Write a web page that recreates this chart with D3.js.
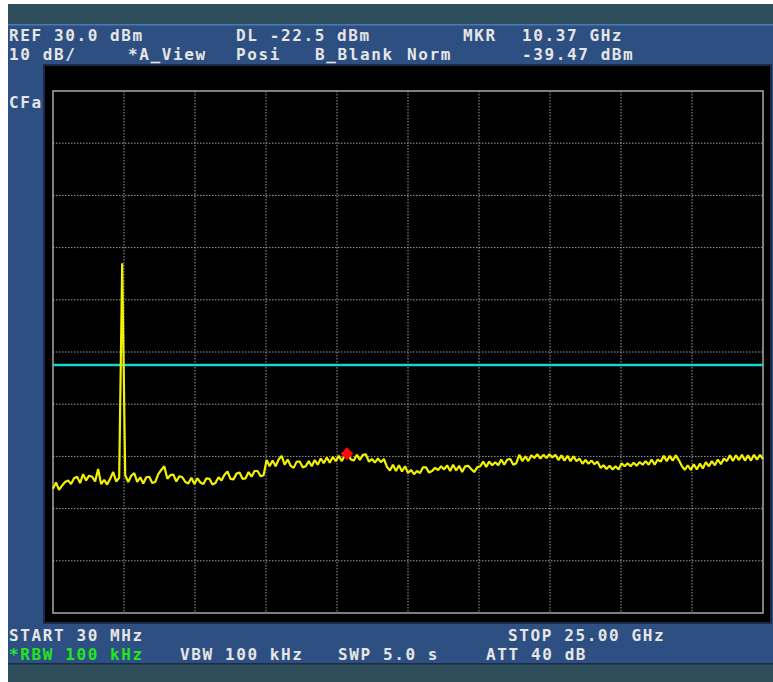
<!DOCTYPE html>
<html>
<head>
<meta charset="utf-8">
<script src="https://cdn.jsdelivr.net/npm/d3@7/dist/d3.min.js"></script>
<style>
  html, body { margin: 0; padding: 0; background: #ffffff; }
  svg text { font-family: "DejaVu Sans Mono", "Liberation Mono", monospace; font-size: 16px; letter-spacing: 1.6px; font-weight: bold; }
</style>
</head>
<body>
<svg id="chart" width="773" height="682"></svg>
<script>
// ---- Instrument settings / data ----
const startGHz = 0.03;
const stopGHz = 25.00;
const refLevel = 30.0;      // dBm, top of graticule
const dbPerDiv = 10;
const yDivisions = 10;
const xDivisions = 10;
const displayLine = -22.5;  // dBm
const markerFreq = 10.37;   // GHz
const markerLevel = -39.47; // dBm

// trace levels (dBm) at equally spaced sweep points from START to STOP
const traceLevels = [
  -46.2, -45.0, -46.4, -45.6, -44.9, -44.6, -45.3, -44.2, -43.9, -45.1,
  -43.4, -44.6, -43.7, -43.9, -44.8, -42.4, -45.3, -44.5, -45.4, -44.3,
  -43.0, -44.8, -44.1, -3.0, -43.6, -44.9, -43.7, -43.2, -44.9, -44.0,
  -45.2, -44.0, -43.9, -45.1, -44.9, -43.4, -42.6, -41.9, -44.3, -43.6,
  -43.5, -44.8, -43.8, -44.0, -44.9, -45.2, -44.1, -45.3, -44.2, -45.0,
  -45.3, -44.2, -44.3, -45.4, -45.1, -44.0, -44.6, -43.5, -42.9, -44.3,
  -44.4, -43.3, -43.1, -44.3, -44.2, -43.0, -43.9, -42.8, -42.8, -43.8,
  -43.6, -40.7, -41.9, -40.8, -41.9, -40.6, -39.9, -41.6, -40.6, -41.8,
  -42.2, -41.0, -41.0, -42.1, -41.9, -40.9, -41.9, -40.7, -41.6, -40.4,
  -41.3, -40.2, -41.2, -40.1, -40.9, -39.9, -40.9, -39.8, -39.5, -40.6,
  -40.8, -39.7, -40.7, -39.7, -39.6, -41.0, -40.5, -41.2, -40.4, -41.1,
  -40.5, -42.0, -42.7, -41.6, -42.8, -41.7, -42.9, -41.9, -43.2, -42.6,
  -43.4, -42.8, -43.2, -42.1, -42.1, -43.1, -42.8, -42.2, -42.6, -41.9,
  -42.5, -41.7, -42.8, -41.6, -42.7, -41.8, -43.0, -41.9, -41.8, -42.4,
  -43.0, -42.1, -41.9, -41.0, -42.0, -41.0, -41.7, -41.1, -41.7, -40.6,
  -41.6, -40.6, -40.5, -41.6, -41.3, -39.7, -40.9, -40.0, -40.9, -39.8,
  -40.3, -39.6, -40.4, -39.7, -40.3, -39.6, -40.2, -39.7, -40.7, -39.8,
  -40.8, -39.9, -40.9, -40.0, -40.9, -40.4, -41.4, -40.7, -41.4, -40.8,
  -41.5, -41.0, -42.2, -41.7, -42.4, -41.8, -42.5, -41.9, -42.5, -41.3,
  -41.9, -41.3, -41.9, -41.2, -41.8, -41.1, -41.6, -40.9, -41.6, -40.6,
  -41.6, -40.6, -41.0, -39.9, -40.9, -39.9, -40.8, -39.8, -40.7, -41.8,
  -42.6, -41.7, -42.6, -41.5, -42.5, -41.4, -42.3, -41.1, -41.9, -40.9,
  -41.7, -40.6, -41.5, -40.4, -40.9, -39.8, -40.9, -39.8, -40.7, -39.7,
  -40.8, -39.8, -40.8, -39.7, -40.6, -39.7, -40.5
];

// annotation texts
const headerTexts = [
  {t: "REF 30.0 dBm", x: 9, row: 0},
  {t: "DL -22.5 dBm", x: 236, row: 0},
  {t: "MKR", x: 463, row: 0},
  {t: "10.37 GHz", x: 522, row: 0},
  {t: "10 dB/", x: 9, row: 1},
  {t: "*A_View", x: 128, row: 1},
  {t: "Posi", x: 236, row: 1},
  {t: "B_Blank", x: 315, row: 1},
  {t: "Norm", x: 407, row: 1},
  {t: "-39.47 dBm", x: 522, row: 1}
];
const footerTexts = [
  {t: "START 30 MHz", x: 9, row: 0, c: "#e6e6e6"},
  {t: "STOP 25.00 GHz", x: 508, row: 0, c: "#e6e6e6"},
  {t: "*RBW 100 kHz", x: 9, row: 1, c: "#22e622"},
  {t: "VBW 100 kHz", x: 180, row: 1, c: "#e6e6e6"},
  {t: "SWP 5.0 s", x: 338, row: 1, c: "#e6e6e6"},
  {t: "ATT 40 dB", x: 486, row: 1, c: "#e6e6e6"}
];

// ---- Drawing ----
const svg = d3.select("#chart");
const W = 773, H = 682;

// backgrounds
svg.append("rect").attr("x", 0).attr("y", 0).attr("width", W).attr("height", H).attr("fill", "#ffffff");
svg.append("rect").attr("x", 8).attr("y", 4).attr("width", W - 8).attr("height", H - 4).attr("fill", "#2f4e5b");
svg.append("rect").attr("x", 8).attr("y", 24).attr("width", W - 8).attr("height", 640).attr("fill", "#2d4f82");
svg.append("rect").attr("x", 8).attr("y", 24).attr("width", W - 8).attr("height", 1.5).attr("fill", "#4a78b8");
svg.append("rect").attr("x", 8).attr("y", 663).attr("width", W - 8).attr("height", 1.5).attr("fill", "#1b2c44");
// black screen
svg.append("rect").attr("x", 43).attr("y", 64).attr("width", 729).attr("height", 560).attr("fill", "#1a2a48");
svg.append("rect").attr("x", 45).attr("y", 66).attr("width", 725).attr("height", 556).attr("fill", "#000000");

// graticule
const plot = {x0: 53, x1: 763, y0: 91, y1: 613};
const x = d3.scaleLinear().domain([startGHz, stopGHz]).range([plot.x0, plot.x1]);
const y = d3.scaleLinear().domain([refLevel - dbPerDiv * yDivisions, refLevel]).range([plot.y1, plot.y0]);

const yGrid = d3.range(1, yDivisions).map(k => refLevel - k * dbPerDiv);
const xGrid = d3.range(1, xDivisions).map(k => startGHz + k * (stopGHz - startGHz) / xDivisions);

const g = svg.append("g");
g.selectAll("line.h").data(yGrid).join("line")
  .attr("x1", plot.x0).attr("x2", plot.x1)
  .attr("y1", d => y(d)).attr("y2", d => y(d))
  .attr("stroke", "#9a9a9a").attr("stroke-width", 1).attr("stroke-dasharray", "1.5,1.5");
g.selectAll("line.v").data(xGrid).join("line")
  .attr("y1", plot.y0).attr("y2", plot.y1)
  .attr("x1", d => x(d)).attr("x2", d => x(d))
  .attr("stroke", "#9a9a9a").attr("stroke-width", 1).attr("stroke-dasharray", "1.5,1.5");
g.append("rect").attr("x", plot.x0).attr("y", plot.y0)
  .attr("width", plot.x1 - plot.x0).attr("height", plot.y1 - plot.y0)
  .attr("fill", "none").attr("stroke", "#a8a8a8").attr("stroke-width", 1.5);

// display line
g.append("line").attr("x1", plot.x0).attr("x2", plot.x1)
  .attr("y1", y(displayLine)).attr("y2", y(displayLine))
  .attr("stroke", "#12d6d6").attr("stroke-width", 2.6);

// trace
const n = traceLevels.length;
const freqOf = i => startGHz + i * (stopGHz - startGHz) / (n - 1);
const line = d3.line().x((d, i) => x(freqOf(i))).y(d => y(d));
g.append("path").datum(traceLevels).attr("d", line)
  .attr("fill", "none").attr("stroke", "#f2f200").attr("stroke-width", 2.2).attr("stroke-linejoin", "bevel");

// marker
const mx = x(markerFreq), my = y(markerLevel);
g.append("path")
  .attr("d", d3.symbol().type(d3.symbolSquare).size(80)())
  .attr("transform", `translate(${mx},${my}) rotate(45)`)
  .attr("fill", "#ff0a0a");

// texts
const headerBase = [41, 60];
svg.append("g").selectAll("text").data(headerTexts).join("text")
  .attr("x", d => d.x).attr("y", d => headerBase[d.row])
  .attr("fill", "#e6e6e6").text(d => d.t);
svg.append("text").attr("x", 9).attr("y", 108).attr("fill", "#e6e6e6").text("CFa");
const footerBase = [641, 660];
svg.append("g").selectAll("text").data(footerTexts).join("text")
  .attr("x", d => d.x).attr("y", d => footerBase[d.row])
  .attr("fill", d => d.c).text(d => d.t);
</script>
</body>
</html>
